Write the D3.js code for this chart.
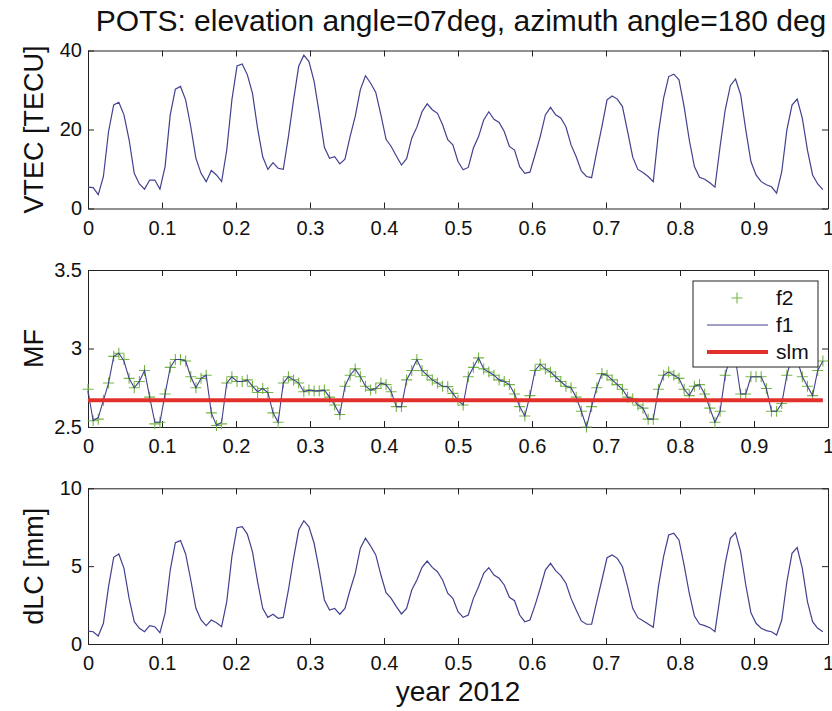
<!DOCTYPE html>
<html>
<head>
<meta charset="utf-8">
<script src="https://cdn.jsdelivr.net/npm/d3@7"></script>
<style>
  body { margin: 0; background: #fff; }
  text { font-family: "Liberation Sans", Arial, Helvetica, sans-serif; fill: #111; }
</style>
</head>
<body>
<script>
// values, one sample every ~2.5 days
const vtec = [5.4,5.3,3.5,8.1,19.5,26.2,26.9,23.7,17.4,8.9,
  6.2,4.9,7.2,7.2,4.9,10.6,23.7,30.2,30.9,27.5,
  20.7,12.7,8.9,6.8,9.6,8.5,6.8,14.8,27.5,36.1,
  36.6,33.9,29.2,20.3,13.1,9.9,11.6,10.2,9.9,18.2,
  27.5,36.0,38.8,37.2,32.2,24.1,15.5,12.7,13.1,11.3,
  12.5,18.2,23.3,30.1,33.6,31.7,29.4,23.7,17.5,15.7,
  13.3,11.0,12.6,17.8,20.6,24.5,26.5,25.0,24.1,21.2,
  17.4,16.1,11.9,9.8,10.4,15.3,18.2,22.4,24.5,22.6,
  21.8,19.5,15.7,14.8,10.6,8.9,9.2,13.6,18.2,23.7,
  25.6,23.7,22.9,20.7,16.1,13.1,9.5,8.1,7.8,14.4,
  20.7,27.5,28.5,27.7,25.8,19.5,13.0,9.9,9.1,8.1,
  6.8,19.1,27.9,33.4,34.0,32.6,25.8,17.4,10.6,7.9,
  7.4,6.5,5.4,15.7,25.0,31.1,32.8,28.8,19.9,11.9,
  8.5,6.8,6.0,5.5,3.9,9.3,19.9,26.2,27.7,22.9,
  14.8,8.5,6.2,4.8];

const mfF1 = [2.73,2.54,2.56,2.67,2.78,2.95,2.97,2.92,2.81,2.75,
  2.79,2.86,2.69,2.53,2.53,2.71,2.88,2.93,2.93,2.92,
  2.82,2.75,2.81,2.83,2.59,2.51,2.53,2.78,2.82,2.79,
  2.79,2.80,2.76,2.725,2.745,2.72,2.59,2.53,2.78,2.82,
  2.80,2.78,2.725,2.735,2.73,2.73,2.735,2.69,2.64,2.58,
  2.76,2.83,2.87,2.82,2.76,2.735,2.745,2.78,2.77,2.725,
  2.63,2.63,2.80,2.86,2.93,2.86,2.83,2.80,2.78,2.76,
  2.757,2.714,2.67,2.64,2.82,2.88,2.94,2.87,2.85,2.83,
  2.80,2.79,2.77,2.71,2.63,2.57,2.70,2.86,2.90,2.87,
  2.85,2.82,2.79,2.76,2.75,2.69,2.60,2.50,2.63,2.75,
  2.84,2.83,2.80,2.77,2.74,2.69,2.68,2.64,2.62,2.55,
  2.55,2.74,2.83,2.85,2.83,2.81,2.74,2.70,2.76,2.77,
  2.71,2.62,2.53,2.60,2.83,2.95,2.93,2.71,2.71,2.82,
  2.82,2.82,2.745,2.60,2.60,2.65,2.83,2.95,2.93,2.82,
  2.76,2.70,2.86,2.92];

const mfF2 = [2.74,2.54,2.55,2.67,2.78,2.95,2.97,2.93,2.81,2.75,
  2.79,2.86,2.69,2.52,2.53,2.71,2.88,2.93,2.93,2.92,
  2.82,2.75,2.81,2.83,2.59,2.51,2.52,2.78,2.82,2.79,
  2.79,2.80,2.76,2.72,2.745,2.72,2.59,2.53,2.78,2.82,
  2.80,2.78,2.725,2.735,2.73,2.73,2.735,2.69,2.64,2.58,
  2.76,2.83,2.87,2.82,2.76,2.735,2.745,2.78,2.77,2.725,
  2.63,2.63,2.80,2.86,2.93,2.86,2.83,2.80,2.78,2.76,
  2.757,2.714,2.67,2.64,2.82,2.88,2.94,2.87,2.85,2.83,
  2.80,2.79,2.77,2.71,2.63,2.57,2.70,2.86,2.90,2.87,
  2.85,2.82,2.79,2.76,2.75,2.69,2.60,2.50,2.63,2.75,
  2.84,2.83,2.80,2.77,2.74,2.69,2.68,2.64,2.62,2.55,
  2.55,2.74,2.83,2.85,2.83,2.81,2.74,2.70,2.76,2.77,
  2.71,2.62,2.53,2.60,2.83,2.95,2.93,2.71,2.71,2.82,
  2.82,2.82,2.745,2.60,2.60,2.65,2.83,2.95,2.93,2.82,
  2.76,2.70,2.86,2.92];

const dlc = [0.83,0.79,0.51,1.33,3.68,5.57,5.78,4.86,2.93,1.43,
  1.01,0.79,1.18,1.11,0.73,1.97,4.75,6.51,6.64,5.78,
  4.11,2.29,1.54,1.18,1.54,1.37,1.11,2.72,5.61,7.47,
  7.53,7.06,5.93,4.0,2.29,1.71,1.91,1.65,1.71,3.47,
  5.50,7.32,7.92,7.53,6.47,4.75,2.83,2.18,2.29,1.91,
  2.29,3.47,4.54,6.15,6.79,6.29,5.72,4.43,3.29,2.93,
  2.40,1.93,2.29,3.47,4.11,4.92,5.33,4.92,4.64,4.11,
  3.26,2.93,2.07,1.71,1.86,2.93,3.68,4.54,4.90,4.43,
  4.22,3.79,3.0,2.78,1.86,1.43,1.54,2.50,3.58,4.75,
  5.18,4.71,4.39,3.90,2.93,2.18,1.48,1.27,1.28,2.72,
  4.11,5.54,5.72,5.50,4.96,3.68,2.29,1.69,1.50,1.28,
  1.07,3.68,5.61,7.0,7.11,6.68,5.07,3.26,1.80,1.28,
  1.18,1.05,0.79,3.04,5.18,6.79,7.15,5.93,3.79,2.01,
  1.33,1.01,0.86,0.79,0.58,1.54,4.0,5.82,6.19,4.86,
  2.72,1.43,1.01,0.79];

const slm = 2.67;
const xTicks = [0, 0.1, 0.2, 0.3, 0.4, 0.5, 0.6, 0.7, 0.8, 0.9, 1];
const vtecTicks = [0, 20, 40];
const mfTicks = [2.5, 3, 3.5];
const dlcTicks = [0, 5, 10];
const legendLabels = ["f2", "f1", "slm"];

// sample times (fraction of year 2012)
const times = d3.range(vtec.length).map(i => i / 144);

const W = 832, H = 711;
const left = 88, right = 828;
const blue = "#41418f", green = "#74b843", red = "#e2312b";

const svg = d3.select("body").append("svg")
    .attr("width", W)
    .attr("height", H);

const x = d3.scaleLinear().domain([0, 1]).range([left, right]);

function drawPanel(top, bottom, yDomain, yTicks, yLabel) {
    let y = d3.scaleLinear().domain(yDomain).range([bottom, top]);
    let g = svg.append("g");

    g.append("rect")
        .attr("x", left).attr("y", top)
        .attr("width", right - left).attr("height", bottom - top)
        .attr("fill", "#fff");

    //axes, ticks pointing inward like matlab
    let fmt = d => d3.format("~g")(d);
    g.append("g")
        .attr("transform", "translate(0," + bottom + ")")
        .call(d3.axisBottom(x).tickValues(xTicks).tickFormat(fmt).tickSizeInner(-6).tickSizeOuter(0).tickPadding(12));
    g.append("g")
        .attr("transform", "translate(0," + top + ")")
        .call(d3.axisTop(x).tickValues(xTicks).tickFormat("").tickSizeInner(-6).tickSizeOuter(0));
    g.append("g")
        .attr("transform", "translate(" + left + ",0)")
        .call(d3.axisLeft(y).tickValues(yTicks).tickFormat(fmt).tickSizeInner(-6).tickSizeOuter(0).tickPadding(6));
    g.append("g")
        .attr("transform", "translate(" + right + ",0)")
        .call(d3.axisRight(y).tickValues(yTicks).tickFormat("").tickSizeInner(-6).tickSizeOuter(0));

    g.selectAll(".domain, .tick line").attr("stroke", "#222");
    g.selectAll(".tick text").attr("font-size", 20).attr("fill", "#111")
        .style("font-family", '"Liberation Sans", Arial, sans-serif');

    svg.append("text")
        .attr("transform", "translate(34," + ((top + bottom) / 2) + ") rotate(-90)")
        .attr("text-anchor", "middle")
        .attr("dy", "0.35em")
        .attr("font-size", 27)
        .text(yLabel);

    return y;
}

// title
svg.append("text")
    .attr("x", 461)
    .attr("y", 31)
    .attr("text-anchor", "middle")
    .attr("font-size", 30)
    .text("POTS: elevation angle=07deg, azimuth angle=180 deg");

// VTEC
let yV = drawPanel(50.5, 208.5, [0, 40], vtecTicks, "VTEC [TECU]");
svg.append("path")
    .datum(vtec)
    .attr("fill", "none")
    .attr("stroke", blue)
    .attr("stroke-width", 1.2)
    .attr("d", d3.line().x((d, i) => x(times[i])).y(d => yV(d)));

// MF
let yM = drawPanel(270, 427, [2.5, 3.5], mfTicks, "MF");
let mfG = svg.append("g");
mfG.selectAll("path.f2")
    .data(mfF2)
    .join("path")
    .attr("class", "f2")
    .attr("d", (d, i) => {
        let cx = x(times[i]), cy = yM(d);
        return "M" + (cx - 5.5) + "," + cy + "H" + (cx + 5.5) + "M" + cx + "," + (cy - 5.5) + "V" + (cy + 5.5);
    })
    .attr("stroke", green)
    .attr("stroke-width", 1.1)
    .attr("fill", "none");
mfG.append("path")
    .datum(mfF1)
    .attr("fill", "none")
    .attr("stroke", blue)
    .attr("stroke-width", 1.1)
    .attr("d", d3.line().x((d, i) => x(times[i])).y(d => yM(d)));
mfG.append("line")
    .attr("x1", x(times[0])).attr("x2", x(times[times.length - 1]))
    .attr("y1", yM(slm)).attr("y2", yM(slm))
    .attr("stroke", red)
    .attr("stroke-width", 4);

// legend
let leg = svg.append("g").attr("transform", "translate(693,281)");
leg.append("rect")
    .attr("width", 125).attr("height", 86)
    .attr("fill", "#fff").attr("stroke", "#222");
legendLabels.forEach((lab, k) => {
    let ly = 17 + k * 27;
    if (lab == "f2") {
        leg.append("path")
            .attr("d", "M" + 38.5 + "," + ly + "H" + 49.5 + "M" + 44 + "," + (ly - 5.5) + "V" + (ly + 5.5))
            .attr("stroke", green).attr("stroke-width", 1.1).attr("fill", "none");
    } else if (lab == "f1") {
        leg.append("line").attr("x1", 14).attr("x2", 75).attr("y1", ly).attr("y2", ly)
            .attr("stroke", blue).attr("stroke-width", 1.1);
    } else {
        leg.append("line").attr("x1", 14).attr("x2", 75).attr("y1", ly).attr("y2", ly)
            .attr("stroke", red).attr("stroke-width", 4);
    }
    leg.append("text")
        .attr("x", 83).attr("y", ly)
        .attr("dy", "0.35em")
        .attr("font-size", 21)
        .text(lab);
});

// dLC
let yD = drawPanel(488.3, 644, [0, 10], dlcTicks, "dLC [mm]");
svg.append("path")
    .datum(dlc)
    .attr("fill", "none")
    .attr("stroke", blue)
    .attr("stroke-width", 1.2)
    .attr("d", d3.line().x((d, i) => x(times[i])).y(d => yD(d)));

svg.append("text")
    .attr("x", 458)
    .attr("y", 701)
    .attr("text-anchor", "middle")
    .attr("font-size", 28)
    .text("year 2012");
</script>
</body>
</html>
